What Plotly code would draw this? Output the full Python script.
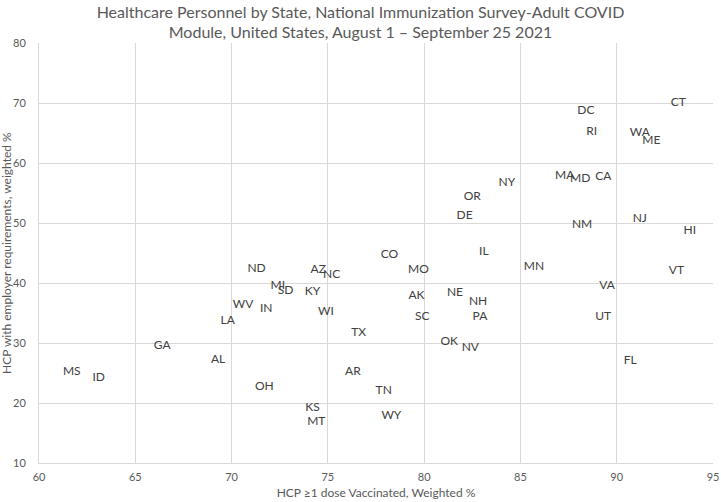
import plotly.graph_objects as go

# State abbreviations and their values
states = ["CT", "DC", "RI", "WA", "ME", "MA", "MD", "CA", "NY", "NM",
          "NJ", "HI", "MN", "VT", "VA", "UT", "FL", "ND", "MI", "SD",
          "WV", "IN", "LA", "GA", "AL", "MS", "ID", "OH", "IL", "CO",
          "AZ", "NC", "MO", "KY", "AK", "NE", "NH", "PA", "WI", "SC",
          "TX", "OK", "NV", "AR", "TN", "KS", "MT", "WY", "OR", "DE"]

# HCP >=1 dose vaccinated, weighted %
vaccinated = [93.2, 88.4, 88.7, 91.2, 91.8, 87.3, 88.1, 89.3, 84.3, 88.2,
              91.2, 93.8, 85.7, 93.1, 89.5, 89.3, 90.7, 71.3, 72.4, 72.8,
              70.6, 71.8, 69.8, 66.4, 69.3, 61.7, 63.1, 71.7, 83.1, 78.2,
              74.5, 75.2, 79.7, 74.2, 79.6, 81.6, 82.8, 82.9, 74.9, 79.9,
              76.6, 81.3, 82.4, 76.3, 77.9, 74.2, 74.4, 78.3, 82.5, 82.1]

# HCP with employer requirements, weighted %
requirements = [70.0, 68.7, 65.2, 65.0, 63.7, 57.9, 57.3, 57.7, 56.7, 49.7,
                50.7, 48.7, 42.7, 42.0, 39.5, 34.3, 27.0, 42.3, 39.5, 38.7,
                36.3, 35.7, 33.7, 29.5, 27.2, 25.1, 24.1, 22.6, 45.2, 44.7,
                42.2, 41.3, 42.2, 38.5, 37.8, 38.3, 36.9, 34.4, 35.1, 34.4,
                31.6, 30.2, 29.2, 25.2, 22.0, 19.2, 16.9, 17.9, 54.4, 51.2]

fig = go.Figure(go.Scatter(
    x=vaccinated,
    y=requirements,
    mode="text",
    text=states,
    textposition="middle center",
    textfont=dict(family="Lato", size=12, color="#404040"),
    hoverinfo="x+y+text",
))

grid = "#d9d9d9"
grey = "#595959"
tickfont = dict(family="Lato", size=11, color=grey)

fig.update_layout(
    width=721,
    height=502,
    paper_bgcolor="white",
    plot_bgcolor="white",
    showlegend=False,
    margin=dict(l=39, r=8, t=43, b=39),
    title=dict(
        text="Healthcare Personnel by State, National Immunization Survey-Adult COVID<br>"
             "Module, United States, August 1 \u2013 September 25 2021",
        x=0.5, xanchor="center",
        y=0.965, yanchor="top",
        font=dict(family="Lato", size=16, color=grey),
    ),
    xaxis=dict(
        range=[60, 95],
        dtick=5,
        showgrid=True,
        gridcolor=grid,
        gridwidth=1,
        zeroline=False,
        showline=True,
        linecolor=grid,
        tickfont=tickfont,
        ticks="",
        ticklabelstandoff=4,
        title=dict(text="HCP \u22651 dose Vaccinated, Weighted %",
                   font=dict(family="Lato", size=12, color=grey),
                   standoff=6),
        automargin=False,
    ),
    yaxis=dict(
        range=[10, 80],
        dtick=10,
        showgrid=True,
        gridcolor=grid,
        gridwidth=1,
        zeroline=False,
        showline=True,
        linecolor=grid,
        tickfont=tickfont,
        ticks="",
        ticklabelstandoff=10,
        automargin=False,
    ),
)

# y axis title as a rotated annotation so it can sit where the original has it
fig.add_annotation(
    text="HCP with employer requirements, weighted %",
    xref="paper", yref="paper",
    x=-33 / 674, y=0.5,
    xanchor="center", yanchor="middle",
    textangle=-90,
    showarrow=False,
    font=dict(family="Lato", size=12, color=grey),
)

# drop the page's default body margin so the figure sits at the window's corner
fig.write_html("out.html", config={"displayModeBar": False},
               post_script="document.body.style.margin='0';")
